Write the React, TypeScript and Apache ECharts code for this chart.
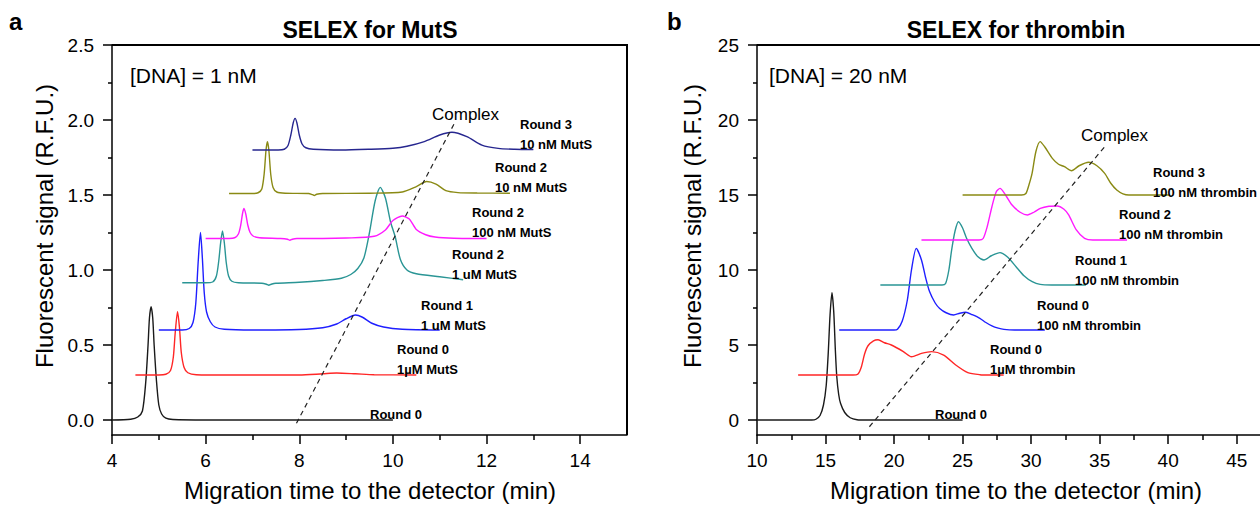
import React, { useEffect, useRef } from "react";
import * as echarts from "echarts";

const FONT = '"Liberation Sans", Arial, Helvetica, sans-serif';

// ---------- Panel a: SELEX for MutS ----------
const mutsXRange = [4, 15];
const mutsYRange = [-0.1, 2.5];
const mutsXTicks = [4, 6, 8, 10, 12, 14];
const mutsXMinorTicks = [5, 7, 9, 11, 13];
const mutsYTicks = [0, 0.5, 1, 1.5, 2, 2.5];
const mutsYTickLabels = ["0.0", "0.5", "1.0", "1.5", "2.0", "2.5"];
const mutsYMinorTicks = [0.25, 0.75, 1.25, 1.75, 2.25];

const mutsRound0 = [
  [4.0, 0], [4.4, 0.005], [4.55, 0.02], [4.65, 0.06], [4.72, 0.25], [4.77, 0.5], [4.8, 0.68],
  [4.835, 0.756], [4.87, 0.68], [4.9, 0.5], [4.95, 0.26], [5.0, 0.1], [5.06, 0.04], [5.15, 0.012],
  [5.3, 0.003], [6.0, 0], [8.0, 0], [10.0, 0],
];
const mutsRound0_1uM = [
  [4.5, 0.3], [5.0, 0.3], [5.15, 0.305], [5.25, 0.33], [5.31, 0.42], [5.35, 0.58], [5.4, 0.722],
  [5.44, 0.62], [5.48, 0.45], [5.54, 0.35], [5.62, 0.315], [5.8, 0.302], [6.5, 0.3], [8.0, 0.3],
  [8.5, 0.308], [8.8, 0.313], [9.2, 0.308], [9.6, 0.302], [10.5, 0.3],
];
const mutsRound1_1uM = [
  [5.0, 0.6], [5.5, 0.6], [5.65, 0.61], [5.73, 0.65], [5.79, 0.78], [5.84, 1.05], [5.89, 1.25],
  [5.93, 1.08], [5.97, 0.85], [6.02, 0.72], [6.1, 0.655], [6.2, 0.62], [6.4, 0.605], [7.0, 0.6],
  [8.0, 0.603], [8.5, 0.615], [8.8, 0.64], [9.0, 0.675], [9.2, 0.7], [9.35, 0.685], [9.55, 0.645],
  [9.8, 0.62], [10.2, 0.605], [11.0, 0.6],
];
const mutsRound2_1uM = [
  [5.5, 0.915], [6.0, 0.915], [6.15, 0.92], [6.23, 0.96], [6.28, 1.06], [6.32, 1.18], [6.36, 1.26],
  [6.4, 1.18], [6.44, 1.05], [6.49, 0.96], [6.56, 0.925], [6.7, 0.915], [7.2, 0.912], [7.3, 0.905],
  [7.35, 0.898], [7.4, 0.905], [7.5, 0.912], [8.0, 0.918], [8.5, 0.93], [8.9, 0.945], [9.1, 0.97],
  [9.25, 1.01], [9.38, 1.08], [9.5, 1.25], [9.62, 1.46], [9.73, 1.551], [9.84, 1.48], [9.95, 1.32],
  [10.05, 1.22], [10.16, 1.07], [10.3, 1.0], [10.5, 0.975], [11.0, 0.955], [11.5, 0.935],
];
const mutsRound2_100nM = [
  [6.0, 1.21], [6.5, 1.21], [6.62, 1.215], [6.7, 1.24], [6.75, 1.3], [6.79, 1.38], [6.82, 1.41],
  [6.86, 1.37], [6.9, 1.3], [6.95, 1.25], [7.02, 1.225], [7.15, 1.215], [7.6, 1.21], [7.75, 1.205],
  [7.8, 1.198], [7.85, 1.205], [7.95, 1.21], [8.5, 1.21], [9.0, 1.213], [9.6, 1.225], [9.84, 1.267],
  [10.0, 1.33], [10.2, 1.36], [10.35, 1.34], [10.5, 1.27], [10.7, 1.235], [10.9, 1.22], [11.3, 1.212],
  [12.0, 1.21],
];
const mutsRound2_10nM = [
  [6.5, 1.51], [7.0, 1.51], [7.12, 1.515], [7.2, 1.54], [7.25, 1.64], [7.29, 1.8], [7.32, 1.855],
  [7.35, 1.8], [7.39, 1.64], [7.44, 1.55], [7.52, 1.52], [7.7, 1.512], [8.2, 1.51], [8.28, 1.502],
  [8.32, 1.497], [8.37, 1.505], [8.5, 1.51], [9.5, 1.512], [10.2, 1.52], [10.5, 1.556], [10.72, 1.59],
  [10.92, 1.573], [11.13, 1.529], [11.39, 1.516], [11.8, 1.513], [12.5, 1.512],
];
const mutsRound3_10nM = [
  [7.0, 1.8], [7.55, 1.8], [7.68, 1.805], [7.76, 1.83], [7.82, 1.9], [7.87, 1.98], [7.91, 2.011],
  [7.95, 1.98], [8.0, 1.9], [8.06, 1.84], [8.14, 1.815], [8.3, 1.805], [8.9, 1.8], [9.5, 1.805],
  [10.0, 1.812], [10.3, 1.825], [10.67, 1.856], [11.0, 1.9], [11.26, 1.918], [11.58, 1.889],
  [11.9, 1.833], [12.25, 1.811], [12.6, 1.805], [13.0, 1.803],
];
const mutsComplexLine = [[7.94, -0.022], [11.32, 1.982]];

const mutsSeries = [
  { name: "Round 0", data: mutsRound0, color: "#1a1a1a" },
  { name: "Round 0 1µM MutS", data: mutsRound0_1uM, color: "#ff2626" },
  { name: "Round 1 1 uM MutS", data: mutsRound1_1uM, color: "#1f1fff" },
  { name: "Round 2 1 uM MutS", data: mutsRound2_1uM, color: "#2a9595" },
  { name: "Round 2 100 nM MutS", data: mutsRound2_100nM, color: "#ff1aff" },
  { name: "Round 2 10 nM MutS", data: mutsRound2_10nM, color: "#8a8a14" },
  { name: "Round 3 10 nM MutS", data: mutsRound3_10nM, color: "#26268f" },
];

// ---------- Panel b: SELEX for thrombin ----------
const thrXRange = [10, 46.7];
const thrYRange = [-1, 25];
const thrXTicks = [10, 15, 20, 25, 30, 35, 40, 45];
const thrXMinorTicks = [12.5, 17.5, 22.5, 27.5, 32.5, 37.5, 42.5];
const thrYTicks = [0, 5, 10, 15, 20, 25];
const thrYTickLabels = ["0", "5", "10", "15", "20", "25"];
const thrYMinorTicks = [2.5, 7.5, 12.5, 17.5, 22.5];

const thrRound0 = [
  [10, 0], [14.0, 0], [14.3, 0.05], [14.6, 0.3], [14.85, 1.0], [15.05, 2.3], [15.2, 4.5], [15.33, 7.0],
  [15.47, 8.49], [15.6, 7.2], [15.72, 4.6], [15.82, 2.9], [15.96, 1.7], [16.1, 1.1], [16.4, 0.5],
  [16.8, 0.15], [17.3, 0.02], [18, 0], [25, 0],
];
const thrRound0_1uM = [
  [13, 3.0], [17.0, 3.0], [17.35, 3.05], [17.6, 3.5], [17.85, 4.4], [18.1, 4.95], [18.5, 5.28],
  [18.83, 5.35], [19.3, 5.15], [19.8, 5.0], [20.68, 4.56], [21.27, 4.22], [22.0, 4.44], [22.74, 4.56],
  [23.62, 4.33], [24.5, 3.67], [25.38, 3.16], [26.26, 3.02], [27.0, 3.0], [28.0, 3.0],
];
const thrRound0_100nM = [
  [16, 6.0], [20.0, 6.0], [20.25, 6.05], [20.6, 6.6], [20.97, 8.0], [21.27, 10.0], [21.62, 11.44],
  [22.0, 10.67], [22.3, 9.5], [22.59, 8.56], [23.0, 7.8], [23.33, 7.44], [23.8, 7.15], [24.35, 7.0],
  [24.8, 7.12], [25.24, 7.18], [25.7, 7.02], [26.26, 6.78], [26.7, 6.5], [27.14, 6.27], [27.6, 6.12],
  [28.02, 6.04], [28.8, 6.0], [31, 6.0],
];
const thrRound1_100nM = [
  [19, 9.0], [23.5, 9.0], [23.76, 9.1], [24.0, 10.0], [24.2, 11.33], [24.45, 12.6], [24.7, 13.22],
  [25.0, 12.8], [25.3, 12.1], [25.68, 11.44], [26.1, 10.9], [26.56, 10.67], [27.1, 10.95],
  [27.73, 11.16], [28.3, 10.85], [28.9, 10.22], [29.5, 9.6], [30.08, 9.22], [30.66, 9.04],
  [31.5, 9.0], [34, 9.0],
];
const thrRound2_100nM = [
  [22, 12.0], [26.2, 12.0], [26.5, 12.1], [26.8, 12.9], [27.14, 14.22], [27.45, 15.2], [27.73, 15.44],
  [28.1, 15.05], [28.61, 14.33], [29.2, 13.85], [29.73, 13.67], [30.2, 13.85], [30.67, 14.11],
  [31.3, 14.25], [31.9, 14.27], [32.4, 14.05], [32.74, 13.67], [33.3, 12.67], [33.9, 12.11],
  [34.5, 12.0], [37, 12.0],
];
const thrRound3_100nM = [
  [25, 15.0], [29.3, 15.0], [29.62, 15.1], [29.85, 15.7], [30.07, 16.44], [30.35, 17.9], [30.66, 18.56],
  [31.0, 18.2], [31.55, 17.44], [32.0, 17.05], [32.43, 16.89], [32.95, 16.62], [33.5, 16.95],
  [34.19, 17.18], [34.8, 16.95], [35.37, 16.44], [35.8, 15.8], [36.25, 15.33], [36.7, 15.08],
  [37.13, 15.0], [40.1, 15.0],
];
const thrComplexLine = [[18.2, -0.45], [35.35, 18.2]];

const thrSeries = [
  { name: "Round 0", data: thrRound0, color: "#1a1a1a" },
  { name: "Round 0 1µM thrombin", data: thrRound0_1uM, color: "#ff2626" },
  { name: "Round 0 100 nM thrombin", data: thrRound0_100nM, color: "#1f1fff" },
  { name: "Round 1 100 nM thrombin", data: thrRound1_100nM, color: "#2a9595" },
  { name: "Round 2 100 nM thrombin", data: thrRound2_100nM, color: "#ff1aff" },
  { name: "Round 3 100 nM thrombin", data: thrRound3_100nM, color: "#8a8a14" },
];

// ---------- Annotation texts ----------
const mutsLabelLines = [
  ["Round 0"],
  ["Round 0", "1µM MutS"],
  ["Round 1", "1 uM MutS"],
  ["Round 2", "1 uM MutS"],
  ["Round 2", "100 nM MutS"],
  ["Round 2", "10 nM MutS"],
  ["Round 3", "10 nM MutS"],
];
const thrLabelLines = [
  ["Round 0"],
  ["Round 0", "1µM thrombin"],
  ["Round 0", "100 nM thrombin"],
  ["Round 1", "100 nM thrombin"],
  ["Round 2", "100 nM thrombin"],
  ["Round 3", "100 nM thrombin"],
];

// label anchor positions (pixels: left x, middle y of first line)
const mutsLabelPos = [
  [370, 414], [397, 349], [421, 305], [452, 254], [472, 212], [495, 167], [520, 124],
];
const thrLabelPos = [
  [935, 414], [990, 349], [1037, 305], [1075, 260], [1119, 214], [1153, 172],
];

// plot frames (pixel layout)
const gridLayouts = [
  { left: 112, top: 45, width: 515, height: 390 },
  { left: 757, top: 45, width: 503, height: 390 },
];

const AXIS_COLOR = "#000";
const LINE_W = 1.5;

function tickAxis(gridIndex: number, position: string, range: number[], ticks: number[], len: number) {
  return {
    type: "value",
    gridIndex,
    position,
    min: range[0],
    max: range[1],
    axisLine: { show: false, onZero: false },
    splitLine: { show: false },
    axisTick: { show: true, customValues: ticks, length: len, lineStyle: { color: AXIS_COLOR, width: LINE_W } },
    axisLabel: { show: false },
  };
}

function mainAxis(
  gridIndex: number, position: string, range: number[], ticks: number[], margin: number,
  formatter?: (v: number) => string,
) {
  return {
    type: "value",
    gridIndex,
    position,
    min: range[0],
    max: range[1],
    axisLine: { show: true, onZero: false, lineStyle: { color: AXIS_COLOR, width: LINE_W } },
    splitLine: { show: false },
    axisTick: { show: true, customValues: ticks, length: 9, lineStyle: { color: AXIS_COLOR, width: LINE_W } },
    axisLabel: {
      show: true, customValues: ticks, margin, fontSize: 19, color: "#000", fontFamily: FONT,
      ...(formatter ? { formatter } : {}),
    },
  };
}

export default function App() {
  const ref = useRef<HTMLDivElement>(null);

  useEffect(() => {
    if (!ref.current) return;
    const chart = echarts.init(ref.current, undefined, { renderer: "svg" });

    const lineSeries: any[] = [];
    const pushCurves = (list: any[], axisIdx: number) => {
      list.forEach((s) => {
        lineSeries.push({
          type: "line",
          name: s.name,
          xAxisIndex: axisIdx,
          yAxisIndex: axisIdx,
          data: s.data,
          showSymbol: false,
          smooth: 0.25,
          lineStyle: { color: s.color, width: 1.4 },
          itemStyle: { color: s.color },
          z: 3,
        });
      });
    };
    pushCurves(mutsSeries, 0);
    pushCurves(thrSeries, 2);
    const pushComplex = (data: number[][], axisIdx: number, name: string) => {
      lineSeries.push({
        type: "line",
        name,
        xAxisIndex: axisIdx,
        yAxisIndex: axisIdx,
        data,
        showSymbol: false,
        lineStyle: { color: "#222", width: 1.2, type: [5, 4] },
        z: 4,
      });
    };
    pushComplex(mutsComplexLine, 0, "Complex (MutS)");
    pushComplex(thrComplexLine, 2, "Complex (thrombin)");

    // top (and right) edges of the plot frames, drawn through the axes' scales
    lineSeries.push({
      type: "line",
      name: "frame a",
      xAxisIndex: 0,
      yAxisIndex: 0,
      data: [[mutsXRange[0], mutsYRange[1]], [mutsXRange[1], mutsYRange[1]], [mutsXRange[1], mutsYRange[0]]],
      showSymbol: false,
      clip: false,
      lineStyle: { color: AXIS_COLOR, width: 2 },
      z: 5,
    });
    lineSeries.push({
      type: "line",
      name: "frame b",
      xAxisIndex: 2,
      yAxisIndex: 2,
      data: [[thrXRange[0], thrYRange[1]], [thrXRange[1], thrYRange[1]]],
      showSymbol: false,
      clip: false,
      lineStyle: { color: AXIS_COLOR, width: 2 },
      z: 5,
    });

    const graphics: any[] = [];
    const addText = (
      text: string, x: number, y: number, fontSize: number, fontWeight: string,
      align = "left", extra: any = {},
    ) => {
      graphics.push({
        type: "text",
        x,
        y,
        ...extra,
        style: {
          text, fontSize, fontWeight, fontFamily: FONT, fill: "#000",
          textAlign: align, textVerticalAlign: "middle",
        },
        z: 10,
      });
    };

    addText("a", 9, 21, 24, "bold");
    addText("b", 667, 21, 24, "bold");
    addText("SELEX for MutS", 370, 30, 23, "bold", "center");
    addText("SELEX for thrombin", 1016, 30, 23, "bold", "center");
    addText("[DNA] = 1 nM", 130, 75, 21, "normal");
    addText("[DNA] = 20 nM", 769, 75, 21, "normal");
    addText("Complex", 432, 114, 17, "normal");
    addText("Complex", 1081, 135, 17, "normal");
    addText("Migration time to the detector (min)", 370, 490, 24, "normal", "center");
    addText("Migration time to the detector (min)", 1016, 490, 24, "normal", "center");
    addText("Fluorescent signal (R.F.U.)", 44, 226, 24, "normal", "center", { rotation: Math.PI / 2 });
    addText("Fluorescent signal (R.F.U.)", 692, 226, 24, "normal", "center", { rotation: Math.PI / 2 });

    const addLabels = (lines: string[][], pos: number[][]) => {
      lines.forEach((ls, i) => {
        ls.forEach((t, j) => addText(t, pos[i][0], pos[i][1] + j * 20, 13, "bold"));
      });
    };
    addLabels(mutsLabelLines, mutsLabelPos);
    addLabels(thrLabelLines, thrLabelPos);

    const option: any = {
      animation: false,
      backgroundColor: "#fff",
      textStyle: { fontFamily: FONT },
      grid: gridLayouts.map((g) => ({ ...g })),
      xAxis: [
        mainAxis(0, "bottom", mutsXRange, mutsXTicks, 16),
        tickAxis(0, "bottom", mutsXRange, mutsXMinorTicks, 5),
        mainAxis(1, "bottom", thrXRange, thrXTicks, 16),
        tickAxis(1, "bottom", thrXRange, thrXMinorTicks, 5),
      ],
      yAxis: [
        mainAxis(0, "left", mutsYRange, mutsYTicks, 18, (v: number) => mutsYTickLabels[mutsYTicks.indexOf(v)] ?? String(v)),
        tickAxis(0, "left", mutsYRange, mutsYMinorTicks, 4),
        mainAxis(1, "left", thrYRange, thrYTicks, 18, (v: number) => thrYTickLabels[thrYTicks.indexOf(v)] ?? String(v)),
        tickAxis(1, "left", thrYRange, thrYMinorTicks, 4),
      ],
      series: lineSeries,
      graphic: graphics,
    };

    chart.setOption(option);
    return () => {
      chart.dispose();
    };
  }, []);

  const g0 = gridLayouts[0];
  const g1 = gridLayouts[1];
  return (
    <div style={{ position: "absolute", left: 0, top: 0, width: 1260, height: 508 }}>
      <div
        ref={ref}
        style={{ position: "absolute", left: 0, top: 0, width: 1260, height: 508, background: "#fff" }}
      />
      {/* frame edges (top / right), overlaid on the chart */}
      <div
        style={{
          position: "absolute", left: g0.left, top: g0.top - 1, width: g0.width + 1, height: g0.height + 1,
          boxSizing: "border-box", borderTop: "2px solid #000", borderRight: "2px solid #000",
          pointerEvents: "none",
        }}
      />
      <div
        style={{
          position: "absolute", left: g1.left, top: g1.top - 1, width: g1.width, height: 2,
          background: "#000", pointerEvents: "none",
        }}
      />
    </div>
  );
}
